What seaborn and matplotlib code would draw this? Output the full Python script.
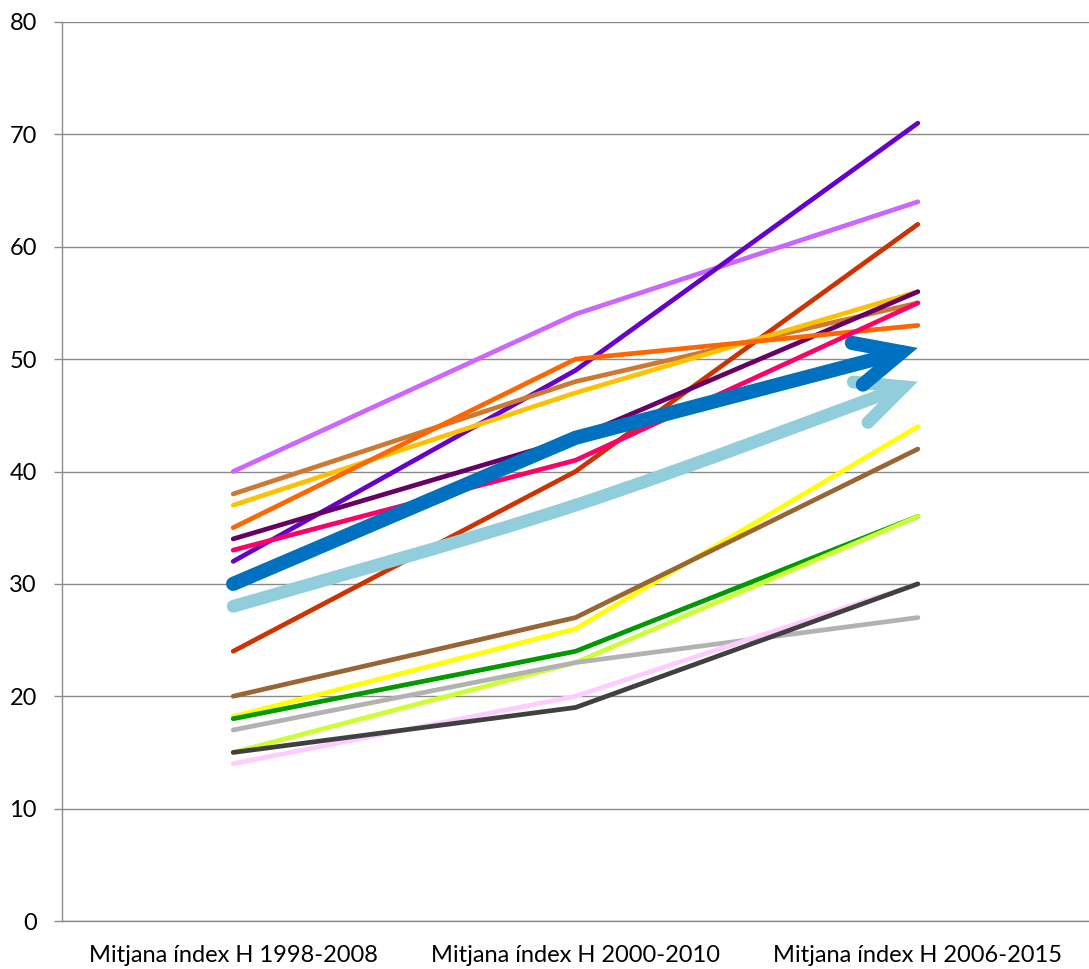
import matplotlib
matplotlib.use("Agg")
import matplotlib.pyplot as plt
import seaborn as sns
import pandas as pd
import numpy as np
from matplotlib.patches import FancyArrowPatch
from matplotlib.path import Path

# categories on the x axis
periods = ["Mitjana índex H 1998-2008", "Mitjana índex H 2000-2010", "Mitjana índex H 2006-2015"]

# series values (one per line)
light_purple = [40, 54, 64]
violet = [32, 49, 71]
red_brown = [24, 40, 62]
tan = [38, 48, 55]
gold = [37, 47, 56]
dark_purple = [34, 43, 56]
orange = [35, 50, 53]
pink = [33, 41, 55]
yellow = [18.2, 26, 44]
brown = [20, 27, 42]
green = [18, 24, 36]
lime = [15, 23, 36]
gray = [17, 23, 27]
light_pink = [14, 20, 30]
dark_gray = [15, 19, 30]
mean_light_blue = [28, 37, 48]
mean_blue = [30, 43, 51]

# (values, colour) in drawing order
thin_series = [
    (light_purple, "#CC66FF"),
    (violet, "#6600CC"),
    (red_brown, "#CC3300"),
    (tan, "#CC7A33"),
    (gold, "#FFC000"),
    (dark_purple, "#660066"),
    (orange, "#FF6600"),
    (pink, "#FF0066"),
    (yellow, "#FFFF00"),
    (brown, "#996633"),
    (green, "#009900"),
    (lime, "#CCFF33"),
    (gray, "#B2B2B2"),
    (light_pink, "#FFCCFF"),
    (dark_gray, "#404040"),
]

sns.set_style("white")
plt.rcParams["font.family"] = ["Lato", "DejaVu Sans"]

fig = plt.figure(figsize=(10.89, 9.69), dpi=100)
ax = fig.add_axes([62 / 1089, 1 - 921 / 969, 1 - 62 / 1089, (921 - 22) / 969])

thin_lw = 3.4
for values, color in thin_series:
    df = pd.DataFrame({"period": periods, "value": values})
    sns.lineplot(data=df, x="period", y="value", color=color, lw=thin_lw,
                 sort=False, ax=ax, solid_capstyle="round", solid_joinstyle="round")

x_pos = np.arange(len(periods), dtype=float)
arrow_style = "->,head_length=3.3,head_width=1.55"

# light blue mean: smoothed curve (Catmull-Rom bezier through the data points) with open arrow
pts = np.column_stack([x_pos, mean_light_blue]).astype(float)
ext = np.vstack([pts[0], pts, pts[-1]])
verts = [tuple(pts[0])]
codes = [Path.MOVETO]
for i in range(len(pts) - 1):
    p0, p1, p2, p3 = ext[i], ext[i + 1], ext[i + 2], ext[i + 3]
    verts += [tuple(p1 + (p2 - p0) / 6), tuple(p2 - (p3 - p1) / 6), tuple(p2)]
    codes += [Path.CURVE4] * 3
ax.add_patch(FancyArrowPatch(path=Path(verts, codes), arrowstyle=arrow_style,
                             mutation_scale=10, lw=9.2, color="#92CDDC",
                             capstyle="round", joinstyle="miter", zorder=3))

# blue mean: thick straight line with open arrow head
blue_path = Path(np.column_stack([x_pos, mean_blue]).astype(float))
ax.add_patch(FancyArrowPatch(path=blue_path, arrowstyle=arrow_style,
                             mutation_scale=10, lw=10.2, color="#0070C0",
                             capstyle="round", joinstyle="miter", zorder=4))

# axes styling
ax.set_xlim(-0.5, 2.5)
ax.set_ylim(0, 80)
ax.set_yticks(np.arange(0, 81, 10))
ax.set_xticks(range(len(periods)))
ax.set_xticklabels(periods)
ax.set_xticks([-0.5, 0.5, 1.5, 2.5], minor=True)
ax.set_xlabel("")
ax.set_ylabel("")
ax.grid(axis="y", color="#8C8C8C", lw=1.0)
ax.set_axisbelow(True)
for side in ["top", "right"]:
    ax.spines[side].set_visible(False)
for side in ["left", "bottom"]:
    ax.spines[side].set_color("#8C8C8C")
    ax.spines[side].set_linewidth(1.0)
ax.tick_params(axis="x", which="major", length=0, pad=17, labelsize=17, colors="black")
ax.tick_params(axis="x", which="minor", length=6, width=1.0, color="#8C8C8C")
ax.tick_params(axis="y", length=6, width=1.0, color="#8C8C8C", pad=12, labelsize=17,
               labelcolor="black", left=True)

fig.savefig("out.png", dpi=100)
